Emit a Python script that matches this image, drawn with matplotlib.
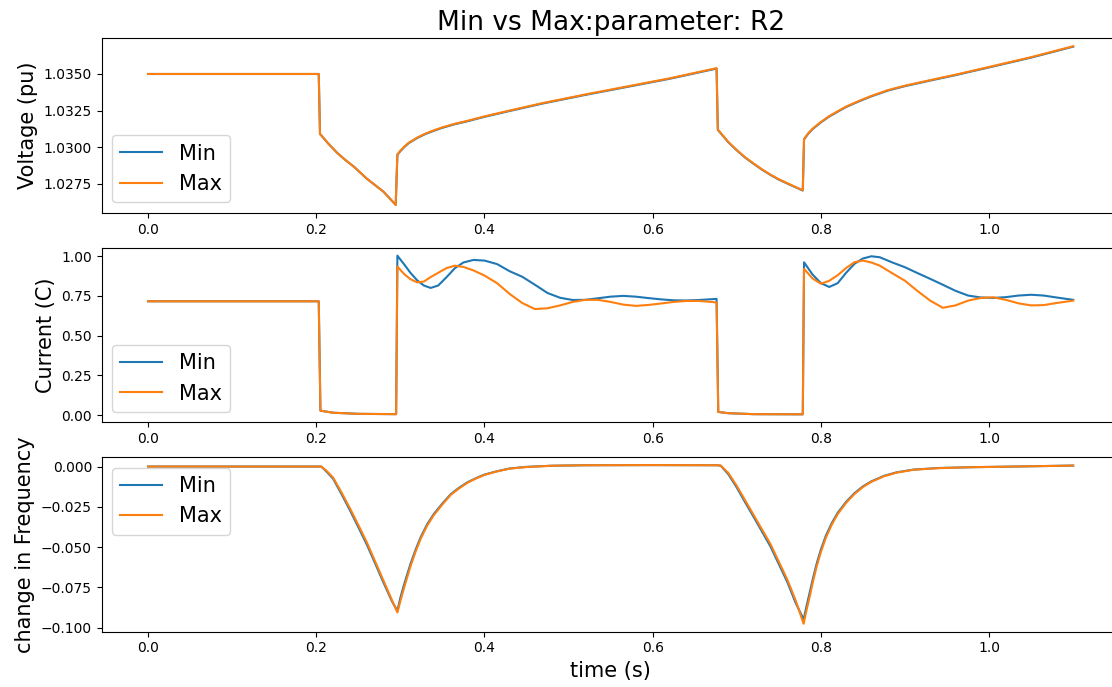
import matplotlib
matplotlib.use("Agg")
import matplotlib.pyplot as plt

# ---- Voltage (pu) ----
t_volt = [0.0, 0.203, 0.2045, 0.215, 0.225, 0.235, 0.245, 0.26, 0.28, 0.2945,
          0.2965, 0.300, 0.305, 0.31, 0.32, 0.33, 0.34, 0.35, 0.365, 0.38,
          0.40, 0.43, 0.47, 0.52, 0.57, 0.62, 0.676, 0.6775, 0.69, 0.70,
          0.71, 0.72, 0.73, 0.74, 0.75, 0.765, 0.7785, 0.780, 0.785, 0.79,
          0.80, 0.81, 0.82, 0.83, 0.845, 0.86, 0.88, 0.90, 0.93, 0.96,
          1.0, 1.05, 1.1]
v_max = [1.0350, 1.0350, 1.0309, 1.03020, 1.02960, 1.02910, 1.02865, 1.02785, 1.02695, 1.02605,
         1.02950, 1.02975, 1.03005, 1.03030, 1.03065, 1.03093, 1.03115, 1.03135, 1.03160, 1.03180,
         1.03210, 1.03250, 1.03302, 1.03360, 1.03415, 1.03470, 1.03540, 1.03120, 1.03035, 1.02980,
         1.02930, 1.02888, 1.02848, 1.02812, 1.02780, 1.02740, 1.02705, 1.03055, 1.03095, 1.03125,
         1.03172, 1.03212, 1.03245, 1.03277, 1.03315, 1.03350, 1.03390, 1.03420, 1.03458, 1.03495,
         1.03548, 1.03615, 1.03690]
v_min = [1.0350, 1.0350, 1.0309, 1.03020, 1.02960, 1.02910, 1.02865, 1.02785, 1.02695, 1.02605,
         1.02948, 1.02972, 1.03002, 1.03027, 1.03062, 1.03090, 1.03112, 1.03132, 1.03157, 1.03177,
         1.03207, 1.03247, 1.03299, 1.03357, 1.03412, 1.03467, 1.03537, 1.03118, 1.03033, 1.02978,
         1.02928, 1.02886, 1.02846, 1.02810, 1.02778, 1.02738, 1.02703, 1.03052, 1.03092, 1.03122,
         1.03169, 1.03209, 1.03242, 1.03274, 1.03312, 1.03347, 1.03387, 1.03417, 1.03455, 1.03492,
         1.03545, 1.03612, 1.03687]

# ---- Current (C) ----
t_cur = [0.0, 0.203, 0.205, 0.22, 0.25, 0.295, 0.2965, 0.305, 0.312, 0.320,
         0.328, 0.336, 0.345, 0.355, 0.365, 0.375, 0.387, 0.40, 0.415, 0.43,
         0.445, 0.46, 0.475, 0.49, 0.505, 0.52, 0.535, 0.55, 0.565, 0.58,
         0.595, 0.61, 0.625, 0.64, 0.655, 0.676, 0.678, 0.69, 0.72, 0.7785,
         0.780, 0.79, 0.80, 0.81, 0.82, 0.83, 0.84, 0.85, 0.86, 0.87,
         0.885, 0.90, 0.915, 0.93, 0.945, 0.96, 0.975, 0.99, 1.005, 1.02,
         1.035, 1.05, 1.065, 1.08, 1.1]
i_min = [0.716, 0.716, 0.028, 0.015, 0.008, 0.006, 1.003, 0.945, 0.895, 0.848,
         0.815, 0.800, 0.815, 0.868, 0.925, 0.960, 0.976, 0.972, 0.950, 0.905,
         0.870, 0.820, 0.768, 0.738, 0.724, 0.725, 0.735, 0.745, 0.750, 0.745,
         0.736, 0.728, 0.722, 0.721, 0.724, 0.731, 0.020, 0.012, 0.006, 0.005,
         0.961, 0.885, 0.830, 0.806, 0.830, 0.895, 0.952, 0.985, 0.999, 0.993,
         0.960, 0.930, 0.893, 0.857, 0.820, 0.782, 0.752, 0.740, 0.737, 0.742,
         0.752, 0.757, 0.752, 0.740, 0.725]
i_max = [0.716, 0.716, 0.028, 0.015, 0.008, 0.006, 0.934, 0.885, 0.855, 0.835,
         0.840, 0.868, 0.895, 0.925, 0.940, 0.932, 0.910, 0.878, 0.830, 0.762,
         0.705, 0.667, 0.672, 0.690, 0.712, 0.725, 0.725, 0.712, 0.695, 0.687,
         0.693, 0.702, 0.712, 0.718, 0.718, 0.709, 0.020, 0.012, 0.006, 0.005,
         0.920, 0.860, 0.826, 0.845, 0.880, 0.925, 0.962, 0.972, 0.960, 0.940,
         0.892, 0.845, 0.780, 0.720, 0.675, 0.690, 0.720, 0.737, 0.741, 0.725,
         0.703, 0.690, 0.692, 0.705, 0.720]

# ---- Change in frequency ----
t_freq = [0.0, 0.206, 0.212, 0.22, 0.23, 0.24, 0.25, 0.26, 0.27, 0.28,
          0.29, 0.2965, 0.300, 0.304, 0.308, 0.312, 0.318, 0.324, 0.332, 0.34,
          0.35, 0.36, 0.37, 0.38, 0.39, 0.40, 0.415, 0.43, 0.45, 0.48,
          0.52, 0.60, 0.677, 0.681, 0.69, 0.70, 0.71, 0.72, 0.73, 0.74,
          0.75, 0.76, 0.77, 0.7795, 0.783, 0.787, 0.791, 0.795, 0.80, 0.806,
          0.813, 0.82, 0.83, 0.84, 0.85, 0.86, 0.875, 0.89, 0.91, 0.94,
          0.98, 1.03, 1.1]
f_max = [0.0, 0.0, -0.0025, -0.0068, -0.0160, -0.0258, -0.0362, -0.0468, -0.0588, -0.0708,
         -0.0828, -0.0905, -0.0835, -0.0760, -0.0690, -0.0620, -0.0530, -0.0450, -0.0365, -0.0300,
         -0.0235, -0.0175, -0.0135, -0.0100, -0.0074, -0.0052, -0.0030, -0.0013, -0.0003, 0.0005,
         0.0008, 0.0009, 0.0008, 0.0006, -0.0040, -0.0120, -0.0210, -0.0300, -0.0390, -0.0480,
         -0.0590, -0.0700, -0.0830, -0.0975, -0.0890, -0.0800, -0.0705, -0.0620, -0.0530, -0.0440,
         -0.0360, -0.0295, -0.0225, -0.0170, -0.0127, -0.0095, -0.0060, -0.0038, -0.0020, -0.0010,
         -0.0004, 0.0000, 0.0006]
f_min = [0.0, 0.0, -0.0030, -0.0075, -0.0170, -0.0270, -0.0375, -0.0482, -0.0600, -0.0720,
         -0.0835, -0.0895, -0.0815, -0.0740, -0.0672, -0.0605, -0.0518, -0.0440, -0.0357, -0.0293,
         -0.0229, -0.0171, -0.0131, -0.0097, -0.0072, -0.0050, -0.0029, -0.0012, -0.0002, 0.0005,
         0.0008, 0.0009, 0.0008, 0.0005, -0.0048, -0.0130, -0.0222, -0.0312, -0.0403, -0.0495,
         -0.0605, -0.0715, -0.0845, -0.0948, -0.0865, -0.0775, -0.0685, -0.0602, -0.0515, -0.0428,
         -0.0350, -0.0287, -0.0219, -0.0165, -0.0123, -0.0092, -0.0058, -0.0036, -0.0019, -0.0009,
         -0.0004, 0.0000, 0.0006]

series_labels = ["Min", "Max"]
x_ticks = [0.0, 0.2, 0.4, 0.6, 0.8, 1.0]

fig, axes = plt.subplots(3, 1, figsize=(11.12, 6.87), dpi=100)
fig.subplots_adjust(left=0.0915, right=1.0067, top=0.9443, bottom=0.0805, hspace=0.2)

panels = [
    (t_volt, v_min, v_max, "Voltage (pu)", "lower left"),
    (t_cur, i_min, i_max, "Current (C)", "lower left"),
    (t_freq, f_min, f_max, "change in Frequency", "upper left"),
]

for ax, (t, y_min, y_max, ylabel, loc) in zip(axes, panels):
    ax.plot(t, y_min, color="#1f77b4", label=series_labels[0])
    ax.plot(t, y_max, color="#ff7f0e", label=series_labels[1])
    ax.set_ylabel(ylabel, fontsize=15)
    ax.set_xticks(x_ticks)
    ax.tick_params(labelsize=10)
    ax.legend(loc=loc, fontsize=15)

axes[0].set_yticks([1.0275, 1.0300, 1.0325, 1.0350])
axes[0].set_yticklabels(["1.0275", "1.0300", "1.0325", "1.0350"])
axes[1].set_yticks([0.0, 0.25, 0.5, 0.75, 1.0])
axes[2].set_yticks([-0.1, -0.075, -0.05, -0.025, 0.0])

axes[0].set_title("Min vs Max:parameter: R2", fontsize=19)
axes[2].set_xlabel("time (s)", fontsize=15)

fig.savefig("out.png", dpi=100)
